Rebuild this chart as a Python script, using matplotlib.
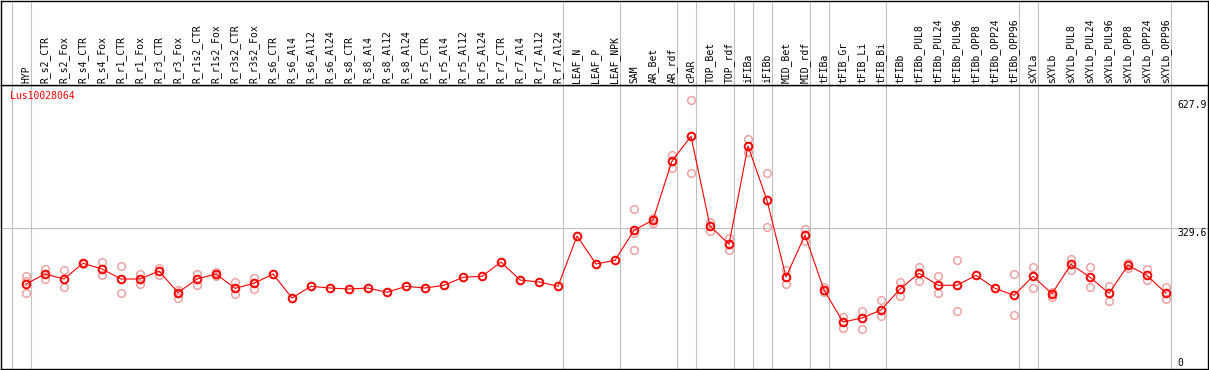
import numpy as np
import matplotlib
matplotlib.use('Agg')
import matplotlib.pyplot as plt

gene = 'Lus10028064'

samples = ['HYP',
           'R_s2_CTR', 'R_s2_Fox', 'R_s4_CTR', 'R_s4_Fox', 'R_r1_CTR', 'R_r1_Fox',
           'R_r3_CTR', 'R_r3_Fox', 'R_r1s2_CTR', 'R_r1s2_Fox', 'R_r3s2_CTR', 'R_r3s2_Fox',
           'R_s6_CTR', 'R_s6_Al4', 'R_s6_Al12', 'R_s6_Al24', 'R_s8_CTR', 'R_s8_Al4',
           'R_s8_Al12', 'R_s8_Al24', 'R_r5_CTR', 'R_r5_Al4', 'R_r5_Al12', 'R_r5_Al24',
           'R_r7_CTR', 'R_r7_Al4', 'R_r7_Al12', 'R_r7_Al24',
           'LEAF_N', 'LEAF_P', 'LEAF_NPK', 'SAM', 'AR_Bet', 'AR_rdf', 'cPAR',
           'TOP_Bet', 'TOP_rdf', 'iFIBa', 'iFIBb', 'MID_Bet', 'MID_rdf', 'tFIBa',
           'tFIB_Gr', 'tFIB_Li', 'tFIB_Bi', 'tFIBb',
           'tFIBb_PUL8', 'tFIBb_PUL24', 'tFIBb_PUL96', 'tFIBb_OPP8', 'tFIBb_OPP24', 'tFIBb_OPP96',
           'sXYLa', 'sXYLb',
           'sXYLb_PUL8', 'sXYLb_PUL24', 'sXYLb_PUL96', 'sXYLb_OPP8', 'sXYLb_OPP24', 'sXYLb_OPP96']

# number of samples in each separated group
group_sizes = [1, 28, 3, 3, 1, 2, 1, 1, 2, 1, 3, 7, 1, 7]

mean_expr = [198.7, 222.1, 210.4, 247.1, 233.8, 210.4, 210.4, 229.1, 178.4, 210.4,
             222.1, 188.6, 200.3, 222.1, 166.0, 193.3, 189.3, 187.0, 189.3, 179.3,
             193.3, 189.3, 195.7, 214.4, 216.7, 250.1, 208.0, 203.4, 193.3, 310.9,
             245.4, 254.1, 324.2, 348.3, 486.2, 544.0, 334.3, 291.5, 521.3, 394.4,
             215.1, 313.2, 184.7, 109.9, 119.2, 137.9, 187.0, 223.7, 195.7, 195.7,
             219.0, 188.6, 172.3, 216.7, 176.0, 244.7, 214.4, 177.0, 242.4, 219.0,
             177.0]

replicates = [[217.4, 205.7, 177.0], [233.8, 209.7], [231.4, 191.0], [248.5, 244.7],
              [250.1, 219.0], [240.8, 177.0], [222.1, 198.7], [236.8, 219.7],
              [184.7, 166.7], [222.1, 195.7], [226.7, 217.4], [204.1, 174.6],
              [212.0, 187.0],
              [], [], [], [], [], [], [], [], [], [], [], [], [], [], [], [],
              [], [], [],
              [374.0, 277.5, 317.9], [353.7, 342.0], [501.0, 470.6], [627.9, 457.5],
              [344.3, 323.3], [306.9, 277.5], [537.0, 508.0], [457.5, 331.9],
              [232.1, 198.0], [327.3, 298.5], [191.0, 179.3], [122.3, 96.5],
              [136.3, 93.5], [161.3, 123.9], [203.4, 170.6], [238.4, 206.4],
              [216.7, 177.0], [254.1, 134.9], [], [], [221.4, 125.5],
              [238.4, 188.6], [180.7, 169.0], [257.8, 231.4], [237.7, 191.0],
              [194.0, 159.7], [247.1, 235.4], [233.1, 208.0], [191.0, 162.9]]

y_max = 627.9
y_mid = 329.6

W, H = 1209, 370
fig = plt.figure(figsize=(W / 100, H / 100), dpi=100)
ax = fig.add_axes([1 / W, 1 / H, 1207 / W, 284 / H])
lab = fig.add_axes([1 / W, (H - 85) / H, 1207 / W, 84 / H])

x = np.arange(len(samples))
xlim = (-25 / 19, 1182 / 19)
for a in (ax, lab):
    a.set_xlim(xlim)
    a.set_xticks([])
    a.set_yticks([])
    for s in a.spines.values():
        s.set_color('black')
        s.set_linewidth(1.0)

ax.set_ylim(0, 663.9)
lab.set_ylim(0, 84)

# group separators
bounds = np.concatenate([[0], np.cumsum(group_sizes)]) - 0.74
for b in bounds:
    ax.axvline(b, color='#c0c0c0', lw=0.8, zorder=1)
    lab.axvline(b, color='#c0c0c0', lw=0.8, zorder=1)
ax.axhline(y_mid, color='#c0c0c0', lw=0.8, zorder=1)

# replicate values
for i, reps in enumerate(replicates):
    if reps:
        ax.plot([i] * len(reps), reps, 'o', ms=5.5, mfc='none', mec='#f09a9a',
                mew=1.0, zorder=2, clip_on=False)

ax.plot(x, mean_expr, '-', color='red', lw=0.8, zorder=3)
ax.plot(x, mean_expr, 'o', ms=5.5, mfc='none', mec='red', mew=1.4, zorder=4)

mono = 'DejaVu Sans Mono'
for i, name in enumerate(samples):
    lab.text(i, 2, name, rotation=90, ha='center', va='bottom',
             fontsize=7, family=mono)

fig.text(10 / W, 1 - 91 / H, gene, color='red', fontsize=7, family=mono,
         ha='left', va='top')
ax.text(60.6, y_max, '%.1f' % y_max, fontsize=7, family=mono, va='top', ha='left')
ax.text(60.6, y_mid, '%.1f' % y_mid, fontsize=7, family=mono, va='top', ha='left')
ax.text(60.6, 2, '0', fontsize=7, family=mono, va='bottom', ha='left')

fig.savefig('out.png', dpi=100)
